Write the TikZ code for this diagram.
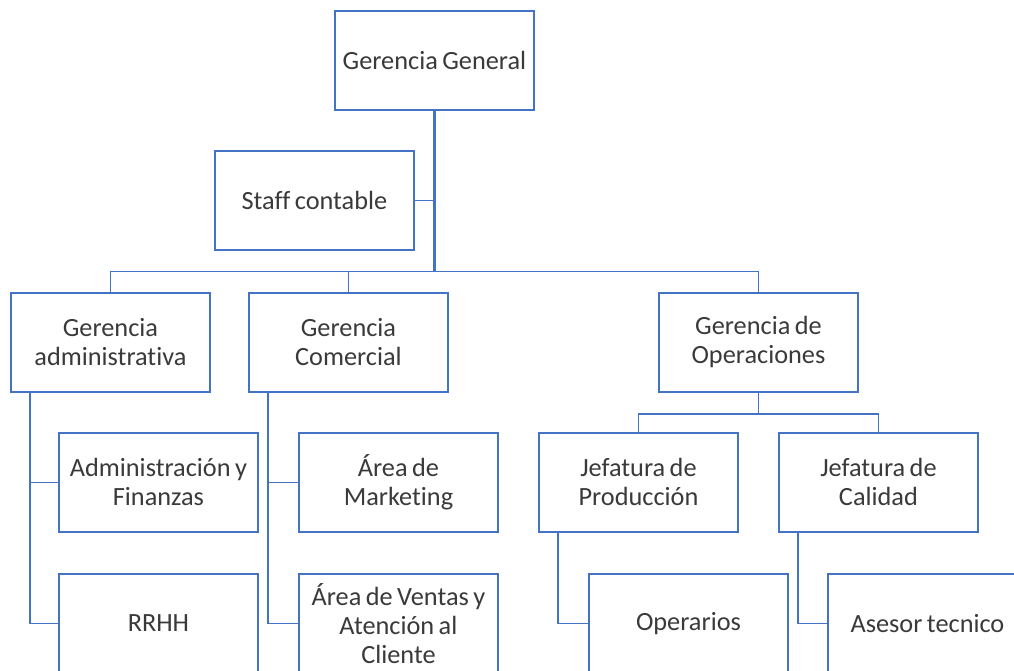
\documentclass[tikz,border=0pt]{standalone}
\usepackage{fontspec}
\setmainfont[Ligatures=NoCommon]{Carlito}
\definecolor{boxblue}{HTML}{4472C4}
\definecolor{txt}{HTML}{3A3A3A}
\newcommand{\orgfont}{\fontsize{26.3}{29}\selectfont\spaceskip=0.17em\relax}
\begin{document}
\begin{tikzpicture}[x=1pt,y=-1pt,
  orgbox/.style={draw=boxblue,line width=1.9pt,fill=white,minimum width=199pt,minimum height=99pt,
    anchor=north west,align=center,text=txt,font=\orgfont,inner sep=1pt},
  link/.style={draw=boxblue,line width=1.9pt}]
\useasboundingbox (0,0) rectangle (1014,670);
\clip (0,0) rectangle (1014,670);
\coordinate (bus) at (0,271.5);
\node[orgbox] (gg) at (334,10) {Gerencia General};
\node[orgbox] (staff) at (214,150) {Staff contable};
\node[orgbox] (ga) at (10,292) {Gerencia\\administrativa};
\node[orgbox] (gc) at (248,292) {Gerencia\\Comercial};
\node[orgbox] (go) at (658,292) {Gerencia de\\Operaciones};
\node[orgbox] (af) at (58,432) {Administración y\\Finanzas};
\node[orgbox] (rr) at (58,573) {RRHH};
\node[orgbox] (mk) at (298,432) {Área de\\Marketing};
\node[orgbox] (vt) at (298,573) {Área de Ventas y\\Atención al\\Cliente};
\node[orgbox] (jp) at (538,432) {Jefatura de\\Producción};
\node[orgbox] (jc) at (778,432) {Jefatura de\\Calidad};
\node[orgbox] (op) at (588,573) {Operarios};
\node[orgbox] (as) at (827,573) {Asesor tecnico};
\draw[link,line width=2.6pt] (gg.south) -- (gg.south |- bus);
\draw[link] (staff.east) -- (staff.east -| gg.south);
\draw[link] (ga.north) -- (ga.north |- bus) -- (go.north |- bus) -- (go.north);
\draw[link] (gc.north) -- (gc.north |- bus);
\draw[link] (go.south) -- ++(0,21.5) coordinate (ob);
\draw[link] (jp.north) |- (ob) -| (jc.north);
\draw[link] ([xshift=20pt]ga.south west) |- (af.west);
\draw[link] ([xshift=20pt]ga.south west) |- (rr.west);
\draw[link] ([xshift=20pt]gc.south west) |- (mk.west);
\draw[link] ([xshift=20pt]gc.south west) |- (vt.west);
\draw[link] ([xshift=20pt]jp.south west) |- (op.west);
\draw[link] ([xshift=20pt]jc.south west) |- (as.west);
\end{tikzpicture}
\end{document}
